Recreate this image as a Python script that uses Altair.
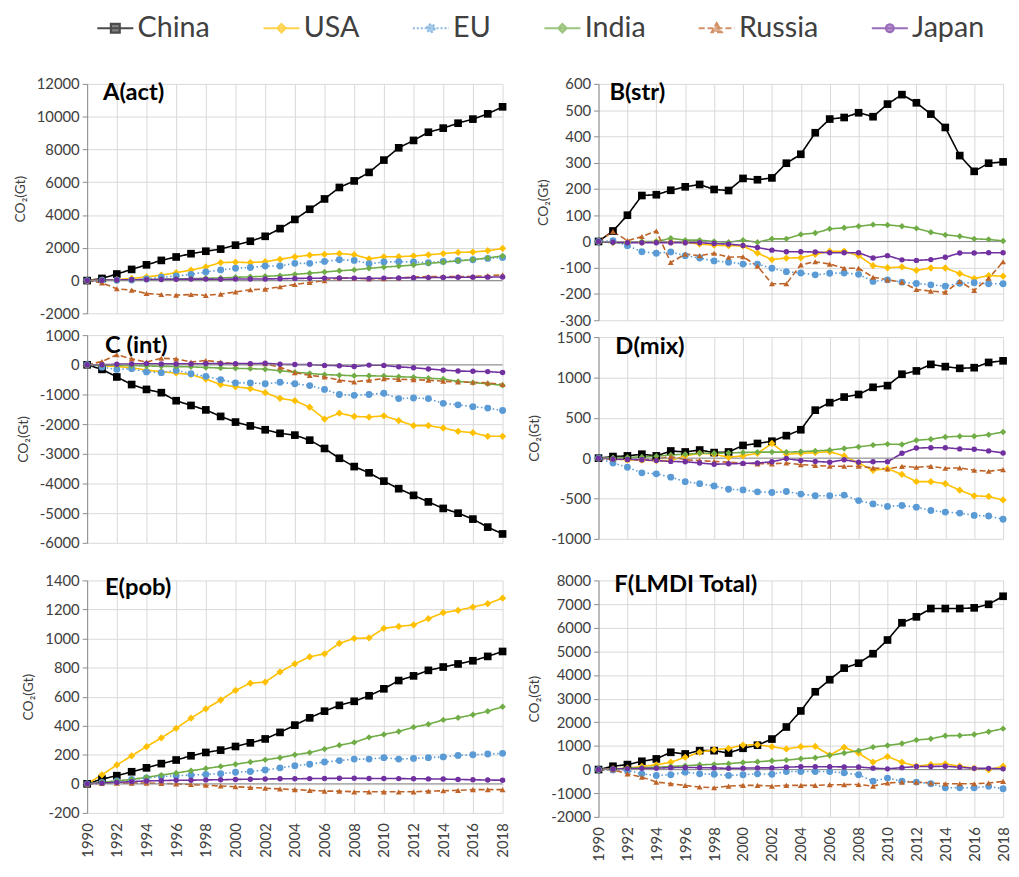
import altair as alt
import pandas as pd

years = list(range(1990, 2019))
series = ["China", "USA", "EU", "India", "Russia", "Japan"]
colors = ["#000000", "#FFC000", "#5B9BD5", "#70AD47", "#BF6428", "#7030A0"]
dashes = [[1, 0], [1, 0], [1.5, 2.5], [1, 0], [6, 3], [1, 0]]
legend_dashes = [[1, 0], [1, 0], [2, 2], [1, 0], [6, 3], [1, 0]]
widths = [1.6, 1.6, 1.3, 1.5, 1.6, 1.9]
shapes = ["square", "diamond", "circle", "diamond", "triangle-up", "circle"]
sizes = [60, 30, 45, 30, 60, 50]

# A (act)
china_A = [0, 130, 400, 680, 960, 1230, 1440, 1640, 1790, 1920, 2160, 2400, 2700, 3170, 3730, 4350, 4980, 5680, 6080, 6600, 7350, 8100, 8550, 9050, 9300, 9600, 9850, 10170, 10600]
usa_A = [0, 30, 60, 130, 220, 330, 480, 640, 830, 1100, 1120, 1100, 1150, 1300, 1450, 1550, 1600, 1650, 1580, 1330, 1450, 1460, 1500, 1570, 1650, 1720, 1740, 1820, 1960]
eu_A = [0, 20, 20, 30, 100, 200, 280, 380, 520, 650, 750, 800, 890, 890, 1050, 1050, 1170, 1270, 1230, 1030, 1130, 1150, 1130, 1090, 1170, 1230, 1270, 1350, 1410]
india_A = [0, 10, 20, 40, 60, 80, 100, 120, 140, 160, 200, 230, 260, 300, 380, 450, 520, 600, 650, 750, 820, 880, 950, 1050, 1120, 1200, 1280, 1380, 1500]
russia_A = [0, -140, -500, -580, -790, -850, -890, -850, -900, -830, -690, -560, -520, -380, -240, -120, 0, 160, 140, 100, 120, 160, 220, 250, 250, 250, 250, 300, 350]
japan_A = [0, 20, 40, 50, 60, 70, 80, 90, 90, 80, 90, 100, 100, 110, 130, 140, 150, 160, 150, 130, 150, 160, 170, 180, 190, 200, 200, 210, 220]

# B (str)
china_B = [0, 40, 100, 175, 178, 195, 208, 217, 198, 194, 240, 235, 242, 298, 332, 414, 466, 472, 490, 475, 523, 559, 528, 485, 434, 327, 267, 298, 303]
usa_B = [0, -3, -3, -3, -1, -2, -3, -10, -14, -16, -17, -44, -69, -63, -62, -49, -37, -37, -54, -92, -100, -97, -110, -101, -101, -122, -141, -130, -132]
eu_B = [0, 3, -16, -39, -45, -40, -54, -63, -74, -79, -86, -86, -102, -115, -120, -127, -121, -120, -125, -152, -146, -155, -160, -165, -170, -159, -157, -161, -161]
india_B = [0, -5, -5, 0, 0, 12, 5, 5, 0, -3, 5, -3, 10, 10, 27, 32, 48, 52, 58, 64, 63, 58, 50, 35, 25, 20, 10, 8, 2]
russia_B = [0, 38, 3, 19, 40, -80, -48, -54, -45, -60, -58, -94, -161, -161, -89, -77, -86, -102, -102, -136, -146, -155, -183, -189, -193, -152, -186, -140, -77]
japan_B = [0, -3, -5, -5, -5, -5, -5, -5, -8, -10, -15, -23, -33, -39, -39, -40, -43, -43, -43, -63, -54, -70, -72, -69, -60, -44, -44, -43, -43]

# C (int)
china_C = [0, -155, -410, -665, -830, -940, -1210, -1370, -1520, -1740, -1930, -2060, -2190, -2310, -2370, -2540, -2820, -3150, -3430, -3640, -3920, -4175, -4400, -4620, -4840, -5000, -5200, -5470, -5700]
usa_C = [0, -30, -60, -100, -180, -230, -280, -330, -480, -665, -740, -800, -940, -1130, -1210, -1430, -1830, -1630, -1740, -1760, -1720, -1880, -2050, -2050, -2130, -2240, -2290, -2410, -2410]
eu_C = [0, -80, -155, -130, -240, -265, -190, -300, -390, -500, -610, -610, -640, -590, -640, -700, -830, -1000, -1030, -1000, -960, -1140, -1120, -1140, -1300, -1350, -1410, -1460, -1540]
india_C = [0, -10, -20, -30, -40, -50, -60, -70, -90, -110, -120, -130, -150, -200, -250, -290, -330, -350, -370, -370, -380, -400, -420, -450, -480, -560, -600, -640, -690]
russia_C = [0, 110, 340, 200, 90, 220, 200, 90, 145, 90, 35, 35, 35, -80, -265, -355, -410, -520, -575, -520, -465, -490, -500, -520, -555, -575, -590, -610, -665]
japan_C = [0, 0, 20, 30, 40, 30, 30, 30, 40, 40, 40, 40, 50, 20, 10, 10, -20, -30, -60, -10, -20, -70, -100, -140, -180, -210, -220, -230, -260]

# D (mix)
china_D = [0, 20, 28, 49, 28, 89, 77, 101, 69, 77, 158, 182, 210, 279, 352, 595, 688, 757, 789, 878, 899, 1040, 1081, 1162, 1134, 1113, 1121, 1186, 1206]
usa_D = [0, -10, -20, -25, -30, -30, 30, 60, 50, 10, 30, 60, 182, 49, 60, 69, 81, 28, -60, -150, -130, -202, -291, -291, -316, -397, -466, -474, -518]
eu_D = [0, -60, -113, -182, -194, -235, -291, -316, -344, -385, -393, -417, -425, -413, -445, -466, -466, -457, -526, -567, -599, -587, -607, -648, -668, -680, -709, -717, -757]
india_D = [0, 5, 10, 15, 25, 40, 50, 60, 60, 65, 70, 75, 75, 75, 80, 90, 100, 120, 140, 162, 174, 170, 222, 235, 263, 271, 271, 291, 324]
russia_D = [0, -10, -20, -20, -10, 20, -20, -30, -40, -50, -60, -70, -70, -60, -80, -90, -100, -100, -100, -121, -134, -101, -113, -101, -125, -121, -150, -162, -142]
japan_D = [0, -10, -15, -20, -30, -40, -45, -60, -75, -70, -65, -60, -45, -5, -30, -40, -50, -20, -50, -45, -45, 60, 125, 130, 130, 115, 110, 90, 65]

# E (pob)
china_E = [0, 33, 56, 83, 110, 139, 164, 193, 216, 232, 257, 282, 309, 354, 404, 454, 500, 540, 568, 606, 654, 711, 743, 781, 804, 825, 847, 877, 911]
usa_E = [0, 62, 130, 193, 256, 316, 382, 452, 516, 577, 643, 693, 700, 770, 826, 874, 895, 967, 1001, 1004, 1070, 1083, 1094, 1137, 1178, 1194, 1217, 1240, 1278]
eu_E = [0, 10, 20, 30, 40, 50, 55, 60, 65, 70, 80, 85, 95, 110, 125, 135, 150, 160, 170, 170, 180, 170, 175, 180, 185, 195, 200, 205, 210]
india_E = [0, 10, 20, 30, 45, 60, 75, 90, 105, 120, 135, 150, 165, 180, 200, 215, 240, 265, 285, 320, 340, 360, 390, 410, 440, 455, 475, 500, 530]
russia_E = [0, 3, 5, 5, 5, 3, 0, -5, -10, -15, -20, -25, -30, -35, -40, -45, -50, -50, -55, -55, -55, -55, -55, -50, -48, -45, -40, -40, -40]
japan_E = [0, 5, 10, 15, 20, 22, 25, 25, 27, 28, 30, 32, 33, 35, 35, 36, 37, 38, 38, 37, 37, 36, 35, 34, 33, 30, 28, 26, 25]

# F (LMDI Total)
china_F = [0, 140, 210, 350, 450, 730, 660, 800, 800, 700, 900, 1030, 1290, 1800, 2480, 3290, 3800, 4290, 4500, 4900, 5480, 6210, 6460, 6810, 6810, 6810, 6840, 6990, 7330]
usa_F = [0, 30, 60, 130, 200, 310, 520, 730, 840, 895, 1035, 1050, 965, 870, 965, 980, 615, 940, 690, 310, 550, 310, 140, 210, 240, 140, 60, -10, 140]
eu_F = [0, -20, -40, -180, -250, -220, -110, -180, -200, -250, -220, -180, -200, -85, -85, -85, -85, -140, -220, -490, -360, -490, -530, -600, -770, -770, -770, -710, -810]
india_F = [0, 20, 50, 80, 100, 130, 160, 200, 220, 250, 300, 330, 370, 400, 460, 500, 600, 700, 800, 950, 1020, 1100, 1250, 1300, 1430, 1440, 1480, 1600, 1730]
russia_F = [0, -10, -180, -320, -530, -600, -670, -740, -770, -700, -670, -670, -700, -670, -670, -670, -640, -640, -630, -700, -570, -530, -530, -570, -600, -600, -600, -570, -500]
japan_F = [0, 20, 40, 50, 60, 80, 90, 80, 70, 50, 60, 70, 70, 100, 120, 120, 120, 110, 110, 60, 30, 80, 130, 130, 140, 100, 50, 50, 30]

panel_data = {
    "A": [china_A, usa_A, eu_A, india_A, russia_A, japan_A],
    "B": [china_B, usa_B, eu_B, india_B, russia_B, japan_B],
    "C": [china_C, usa_C, eu_C, india_C, russia_C, japan_C],
    "D": [china_D, usa_D, eu_D, india_D, russia_D, japan_D],
    "E": [china_E, usa_E, eu_E, india_E, russia_E, japan_E],
    "F": [china_F, usa_F, eu_F, india_F, russia_F, japan_F],
}

rows = []
for key, arrs in panel_data.items():
    for s, arr in zip(series, arrs):
        assert len(arr) == len(years), (key, s, len(arr))
        for yr, v in zip(years, arr):
            rows.append({"panel": key, "series": s, "year": yr, "value": v})
df = pd.DataFrame(rows)
zero_df = pd.DataFrame({"value": [0]})

FONT = "Lato"
TXT = "#404040"
neg_expr = "datum.value < 0 ? '-' + abs(datum.value) : '' + datum.value"


def panel(key, title, lo, hi, step, w, h, xlabels, tdx, tdy):
    d = df[df["panel"] == key]
    if xlabels:
        xaxis = alt.Axis(values=years[::2], format="d", labelAngle=270, labelPadding=10,
                         ticks=False, domain=False, grid=True, title=None, labelOverlap=False,
                         labelFontSize=15, labelFont=FONT, labelColor=TXT)
    else:
        xaxis = alt.Axis(values=years[::2], labels=False, ticks=False, domain=False,
                         grid=True, title=None)
    x = alt.X("year:Q", scale=alt.Scale(domain=[1990, 2018], nice=False, zero=False), axis=xaxis)
    yaxis = alt.Axis(values=list(range(lo, hi + 1, step)), title="CO₂(Gt)",
                     tickSize=5, labelPadding=3, titlePadding=9, grid=True,
                     labelOverlap=False, labelExpr=neg_expr, labelFontSize=15,
                     labelFont=FONT, labelColor=TXT, titleFont=FONT, titleFontSize=14,
                     titleFontWeight="normal", titleColor=TXT)
    y = alt.Y("value:Q", scale=alt.Scale(domain=[lo, hi], nice=False, zero=False), axis=yaxis)
    color = alt.Color("series:N", scale=alt.Scale(domain=series, range=colors), legend=None)
    base = alt.Chart(d)
    line = base.mark_line().encode(
        x=x, y=y, color=color,
        strokeDash=alt.StrokeDash("series:N", scale=alt.Scale(domain=series, range=dashes), legend=None),
        strokeWidth=alt.StrokeWidth("series:N", scale=alt.Scale(domain=series, range=widths), legend=None),
    )
    pts = base.mark_point(filled=True, opacity=1).encode(
        x=x, y=y, color=color,
        shape=alt.Shape("series:N", scale=alt.Scale(domain=series, range=shapes), legend=None),
        size=alt.Size("series:N", scale=alt.Scale(domain=series, range=sizes), legend=None),
    )
    zero = alt.Chart(zero_df).mark_rule(color="#8c8c8c", strokeWidth=1).encode(y=y)
    return alt.layer(line, zero, pts).properties(
        width=w, height=h,
        title=alt.TitleParams(title, anchor="start", frame="group", orient="top", offset=0,
                              fontSize=24, fontWeight="bold", font=FONT, color="#000000",
                              dx=tdx, dy=tdy),
    )


pA = panel("A", "A(act)", -2000, 12000, 2000, 420, 232, False, 16, 28)
pC = panel("C", "C (int)", -6000, 1000, 1000, 420, 210, False, 18, 30)
pE = panel("E", "E(pob)", -200, 1400, 200, 420, 235, True, 18, 27)
pB = panel("B", "B(str)", -300, 600, 100, 409, 239, False, 11, 28)
pD = panel("D", "D(mix)", -1000, 1500, 500, 409, 204, False, 17, 29)
pF = panel("F", "F(LMDI Total)", -2000, 8000, 1000, 409, 239, True, 16, 24)

left = alt.vconcat(alt.vconcat(pA, pC, spacing=7), pE, spacing=23)
right = alt.vconcat(alt.vconcat(pB, pD, spacing=2), pF, spacing=27)
body = alt.hconcat(left, right, spacing=17)

# legend glyphs: a line segment with the series marker (unit coordinates)
sq = "M-1.3,0L1.3,0M-0.32,-0.32L0.32,-0.32L0.32,0.32L-0.32,0.32Z"
di = "M-1.3,0L1.3,0M0,-0.3L0.3,0L0,0.3L-0.3,0Z"
ci = "M-1.3,0L1.3,0M-0.28,0A0.28,0.28,0,1,1,0.28,0A0.28,0.28,0,1,1,-0.28,0Z"
tr = "M-1.3,0L1.3,0M0,-0.36L0.36,0.28L-0.36,0.28Z"
legend_paths = [sq, di, ci, di, tr, ci]

leg_def = alt.Legend(orient="none", legendX=13, legendY=-4, direction="horizontal", title=None,
                     labelFont=FONT, labelFontSize=29, labelColor=TXT, symbolSize=784,
                     symbolStrokeWidth=2.2, labelOffset=7, columnPadding=48, padding=0,
                     labelLimit=300)
legend_df = pd.DataFrame({"series": series})
legend_chart = alt.Chart(legend_df).transform_filter("false").mark_point(filled=True).encode(
    fill=alt.Fill("series:N", scale=alt.Scale(domain=series, range=colors), legend=leg_def),
    stroke=alt.Stroke("series:N", scale=alt.Scale(domain=series, range=colors), legend=leg_def),
    shape=alt.Shape("series:N", scale=alt.Scale(domain=series, range=legend_paths), legend=leg_def),
    strokeDash=alt.StrokeDash("series:N", scale=alt.Scale(domain=series, range=legend_dashes), legend=leg_def),
).properties(width=880, height=1)

chart = alt.vconcat(legend_chart, body, spacing=34).resolve_scale(
    shape="independent", strokeDash="independent", fill="independent", stroke="independent"
).properties(
    padding={"left": 5, "top": 0, "right": 0, "bottom": 0}
).configure_view(stroke=None).configure_axis(
    gridColor="#d9d9d9", gridWidth=1, domainColor="#8c8c8c", tickColor="#8c8c8c"
)

chart.save("out.html", embed_options={"renderer": "svg", "actions": False})
